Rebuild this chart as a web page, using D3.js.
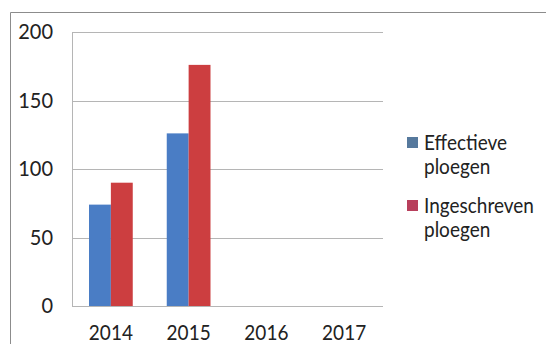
<!DOCTYPE html>
<html>
<head>
<meta charset="utf-8">
<script src="https://cdn.jsdelivr.net/npm/d3@7"></script>
<style>
  body { margin: 0; background: #fff; }
  text { font-family: Lato, "Open Sans", sans-serif; fill: #222; }
</style>
</head>
<body>
<svg width="546" height="344"></svg>
<script>
var years = ['2014', '2015', '2016', '2017'];
var effectieve = [74, 126, 0, 0];
var ingeschreven = [90, 176, 0, 0];
var yTicks = [0, 50, 100, 150, 200];
var seriesNames = [['Effectieve', 'ploegen'], ['Ingeschreven', 'ploegen']];

var svg = d3.select('svg'),
    barColors = ['#4a7dc5', '#cc3e40'],
    legendColors = ['#56799d', '#b83f5c'];

// outer chart border (only top + left are visible)
svg.append('path')
  .attr('d', 'M10.5,344V12.5H546')
  .attr('fill', 'none')
  .attr('stroke', '#8c8c8c');

var x = d3.scaleBand().domain(years).range([72, 383]),
    y = d3.scaleLinear().domain([0, 200]).range([306, 32]);

var inner = d3.scaleBand().domain([0, 1]).range([17, x.bandwidth() - 17]);

// gridlines
svg.append('g')
  .selectAll('line')
  .data(yTicks)
  .enter()
  .append('line')
  .attr('x1', 72)
  .attr('x2', 383)
  .attr('y1', function (d) { return Math.round(y(d)) + 0.5; })
  .attr('y2', function (d) { return Math.round(y(d)) + 0.5; })
  .attr('stroke', '#b5b5b5');

// y axis line
svg.append('line')
  .attr('x1', 72.5).attr('x2', 72.5)
  .attr('y1', y(200)).attr('y2', y(0))
  .attr('stroke', '#b5b5b5');

var yAxis = svg.append('g')
  .attr('transform', 'translate(53,0)')
  .call(d3.axisLeft(y).tickValues(yTicks).tickSize(0).tickPadding(0));
yAxis.select('.domain').remove();
yAxis.selectAll('text')
  .attr('x', 0).attr('y', 0).attr('dy', null)
  .attr('transform', 'translate(0,6.5) scale(1,1.08)')
  .attr('font-size', 20)
  .attr('font-family', 'Lato, sans-serif')
  .attr('fill', '#222');

var xAxis = svg.append('g')
  .call(d3.axisBottom(x).tickSize(0).tickPadding(0));
xAxis.select('.domain').remove();
xAxis.selectAll('text')
  .attr('y', 0).attr('dy', null)
  .attr('transform', 'translate(0,340) scale(1,1.12)')
  .attr('font-size', 19)
  .attr('font-family', 'Lato, sans-serif')
  .attr('fill', '#222');

// bars
[effectieve, ingeschreven].forEach(function (vals, s) {
  svg.append('g')
    .selectAll('rect')
    .data(vals)
    .enter()
    .append('rect')
    .attr('x', function (d, i) { return x(years[i]) + inner(s); })
    .attr('width', inner.bandwidth())
    .attr('y', function (d) { return y(d); })
    .attr('height', function (d) { return y(0) - y(d); })
    .attr('fill', barColors[s]);
});

// legend
var legend = svg.append('g');
seriesNames.forEach(function (lines, s) {
  var base = s === 0 ? 150 : 213;
  legend.append('rect')
    .attr('x', 407)
    .attr('y', base - 13)
    .attr('width', 11)
    .attr('height', 11)
    .attr('fill', legendColors[s]);
  lines.forEach(function (t, j) {
    legend.append('text')
      .attr('transform', 'translate(424,' + (base + j * 24) + ') scale(1,1.12)')
      .attr('font-size', 19)
      .text(t);
  });
});
</script>
</body>
</html>
